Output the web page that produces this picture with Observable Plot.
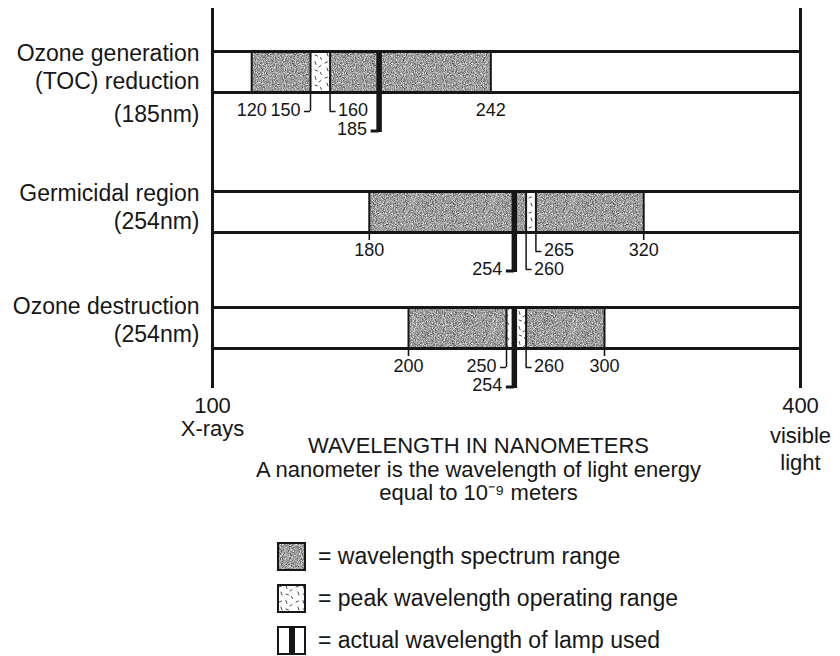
<!DOCTYPE html>
<html><head><meta charset="utf-8">
<script src="https://cdn.jsdelivr.net/npm/d3@7"></script>
<script src="https://cdn.jsdelivr.net/npm/@observablehq/plot@0.6"></script>
<style>
html,body{margin:0;padding:0;background:#fff;overflow:hidden;}
body{width:840px;height:656px;font-family:"Liberation Sans",Arial,Helvetica,sans-serif;color:#161616;}
#chart svg{display:block;}
#legend{margin-top:15px;padding-left:277px;}
.row{display:flex;align-items:center;height:42px;font-size:23px;white-space:nowrap;}
.sw{display:block;margin-right:12px;}
</style></head><body>
<svg width="0" height="0" style="position:absolute">
 <defs>
  <filter id="noise" x="0" y="0" width="100%" height="100%" color-interpolation-filters="sRGB">
   <feTurbulence type="fractalNoise" baseFrequency="1.1" numOctaves="2" seed="4" stitchTiles="stitch"/>
   <feColorMatrix type="matrix" values="1 0 0 0 0 1 0 0 0 0 1 0 0 0 0 0 0 0 0 1"/>
   <feComponentTransfer>
    <feFuncR type="linear" slope="1.0" intercept="0.12"/>
    <feFuncG type="linear" slope="1.0" intercept="0.12"/>
    <feFuncB type="linear" slope="1.0" intercept="0.12"/>
   </feComponentTransfer>
  </filter>
  <pattern id="grain" patternUnits="userSpaceOnUse" width="80" height="80">
   <rect width="80" height="80" fill="#a2a2a2"/>
   <rect width="80" height="80" filter="url(#noise)"/>
  </pattern>
  <pattern id="speck" patternUnits="userSpaceOnUse" width="17" height="15">
   <rect width="17" height="15" fill="#fff"/>
   <g stroke="#333" stroke-width="0.9" stroke-linecap="round">
    <line x1="2" y1="3" x2="4.5" y2="2"/>
    <line x1="9" y1="1.5" x2="10" y2="4.5"/>
    <line x1="13" y1="7" x2="15" y2="5.5"/>
    <line x1="4" y1="8" x2="5" y2="11"/>
    <line x1="9" y1="10" x2="11.5" y2="11"/>
    <line x1="14.5" y1="12.5" x2="15.5" y2="14.5"/>
   </g>
  </pattern>
 </defs>
</svg>
<div id="chart"></div>
<div id="legend"></div>
<script>
// ---- data ----
const regionNames = ["Ozone generation\n(TOC) reduction", "Germicidal region", "Ozone destruction"];
const regionLamps = ["(185nm)", "(254nm)", "(254nm)"];
const spectrumStart = [120, 180, 200];
const spectrumEnd = [242, 320, 300];
const peakStart = [150, 260, 250];
const peakEnd = [160, 265, 260];
const lampWavelength = [185, 254, 254];
const axisTicks = [100, 400];
const axisTickNames = ["X-rays", "visible\nlight"];
const axisTitle = "WAVELENGTH IN NANOMETERS";
const axisNote = ["A nanometer is the wavelength of light energy", "equal to 10\u207B\u2079 meters"];
const legendLabels = ["= wavelength spectrum range", "= peak wavelength operating range", "= actual wavelength of lamp used"];

// ---- layout (one strip per region) ----
const frames = [
  {height: 150, marginTop: 51, marginBottom: 58, axisUp: 43, axisDown: 58},
  {height: 130, marginTop: 41, marginBottom: 48, axisUp: 41, axisDown: 48},
  {height: 240, marginTop: 27, marginBottom: 172, axisUp: 27, axisDown: 40}
];
const ink = "#161616";
const font = "'Liberation Sans', Arial, sans-serif";
const numSize = 18;

const rows = regionNames.map((name, i) => ({
  i, name, nm: regionLamps[i],
  s0: spectrumStart[i], s1: spectrumEnd[i],
  p0: peakStart[i], p1: peakEnd[i],
  lamp: lampWavelength[i]
}));

function regionPlot(r) {
  const f = frames[r.i];
  const last = r.i === rows.length - 1;
  // band: top edge = 0, bottom edge = 1
  const bounds = [r.s0, r.s1, r.p0, r.p1];
  const ends = [r.s0, r.s1];
  const startRight = r.p0 > r.lamp;
  const leaders = [
    {x: r.p0, side: startRight ? "right" : "left", low: startRight},
    {x: r.p1, side: "right", low: false}
  ];
  const leftHigh = leaders.filter(d => d.side === "left");
  const rightHigh = leaders.filter(d => d.side === "right" && !d.low);
  const rightLow = leaders.filter(d => d.side === "right" && d.low);
  const twoLine = r.name.includes("\n");
  const top = () => 0, bottom = () => 1;

  const marks = [
    Plot.rect([r], {x1: "s0", x2: "s1", y1: top, y2: bottom, fill: "url(#grain)"}),
    Plot.rect([r], {x1: "p0", x2: "p1", y1: top, y2: bottom, fill: "url(#speck)"}),
    Plot.ruleX(bounds, {x: d => d, y1: top, y2: bottom, strokeWidth: 2}),
    r.i > 0 ? Plot.ruleX(ends, {x: d => d, y1: bottom, y2: bottom, insetBottom: -8, strokeWidth: 1.6}) : null,
    Plot.ruleX(leaders.filter(d => !d.low), {x: "x", y1: bottom, y2: bottom, insetBottom: -19, strokeWidth: 1.5}),
    Plot.ruleX(rightLow, {x: "x", y1: bottom, y2: bottom, insetBottom: -37, strokeWidth: 1.5}),
    Plot.ruleY(leftHigh, {x1: "x", x2: "x", y: bottom, dy: 19, insetLeft: -6, strokeWidth: 1.5}),
    Plot.ruleY(rightHigh, {x1: "x", x2: "x", y: bottom, dy: 19, insetRight: -6, strokeWidth: 1.5}),
    Plot.ruleY(rightLow, {x1: "x", x2: "x", y: bottom, dy: 37, insetRight: -6, strokeWidth: 1.5}),
    Plot.ruleY([0, 1], {y: d => d, strokeWidth: 3}),
    Plot.ruleX(axisTicks, {x: d => d, y1: top, y2: bottom, insetTop: -f.axisUp, insetBottom: -f.axisDown, strokeWidth: 3}),
    Plot.ruleX([r], {x: "lamp", y1: top, y2: bottom, insetBottom: -40, strokeWidth: 5.5}),
    Plot.ruleY([r], {x1: "lamp", x2: "lamp", y: bottom, dy: 38.5, insetLeft: -8, strokeWidth: 3}),
    Plot.text(ends, {x: d => d, y: bottom, text: d => String(d), dy: 18, fontSize: numSize}),
    Plot.text(leftHigh, {x: "x", y: bottom, text: d => String(d.x), dy: 18, dx: -10, textAnchor: "end", fontSize: numSize}),
    Plot.text(rightHigh, {x: "x", y: bottom, text: d => String(d.x), dy: 18, dx: 8, textAnchor: "start", fontSize: numSize}),
    Plot.text(rightLow, {x: "x", y: bottom, text: d => String(d.x), dy: 37, dx: 8, textAnchor: "start", fontSize: numSize}),
    Plot.text([r], {x: "lamp", y: bottom, text: d => String(d.lamp), dy: 37, dx: -12, textAnchor: "end", fontSize: numSize}),
    Plot.text([r], {x: () => axisTicks[0], y: () => 0.5,
      text: d => twoLine ? d.name : d.name + "\n" + d.nm,
      textAnchor: "end", dx: -13, dy: r.i === 2 ? -9 : -6, fontSize: 23, lineHeight: 1.2}),
    twoLine ? Plot.text([r], {x: () => axisTicks[0], y: bottom, text: "nm", textAnchor: "end", dx: -13, dy: 22, fontSize: 23}) : null
  ];
  if (last) {
    marks.push(
      Plot.axisX({ticks: axisTicks, tickSize: 0, tickPadding: 49, fontSize: 22, label: null}),
      Plot.text(axisTicks.slice(0, 1), {x: d => d, text: () => axisTickNames[0], frameAnchor: "bottom", lineAnchor: "top",
        dy: 72, fontSize: 22}),
      Plot.text(axisTicks.slice(1), {x: d => d, text: () => axisTickNames[1], frameAnchor: "bottom", lineAnchor: "top",
        dy: 76, fontSize: 22, lineHeight: 1.2}),
      Plot.text([[axisTitle, ...axisNote].join("\n")], {text: d => d, frameAnchor: "bottom", lineAnchor: "top",
        dy: 87.4, dx: -28, fontSize: 22, lineHeight: 1.08})
    );
  } else {
    marks.push(Plot.axisX({ticks: [], label: null}));
  }
  return Plot.plot({
    width: 840, height: f.height,
    marginLeft: 212, marginRight: 40, marginTop: f.marginTop, marginBottom: f.marginBottom,
    style: {fontFamily: font, color: ink, background: "white", overflow: "visible"},
    x: {domain: [axisTicks[0], axisTicks[1]]},
    y: {domain: [0, 1], range: [f.marginTop, f.height - f.marginBottom], axis: null},
    marks: marks.filter(Boolean)
  });
}
const chartDiv = document.getElementById("chart");
rows.forEach(r => chartDiv.appendChild(regionPlot(r)));

// ---- legend ----
const swatches = [
  `<rect x="1" y="1" width="27" height="27" fill="url(#grain)" stroke="${ink}" stroke-width="2"/>`,
  `<rect x="1" y="1" width="27" height="27" fill="url(#speck)" stroke="${ink}" stroke-width="2"/>`,
  `<rect x="1" y="1" width="27" height="27" fill="#fff" stroke="${ink}" stroke-width="2"/><rect x="12" y="1" width="6" height="27" fill="${ink}"/>`
];
const legend = document.getElementById("legend");
legendLabels.forEach((label, i) => {
  const row = document.createElement("div");
  row.className = "row";
  row.innerHTML = `<svg class="sw" width="29" height="29">${swatches[i]}</svg><span></span>`;
  row.querySelector("span").textContent = label;
  legend.appendChild(row);
});
</script>
</body></html>
